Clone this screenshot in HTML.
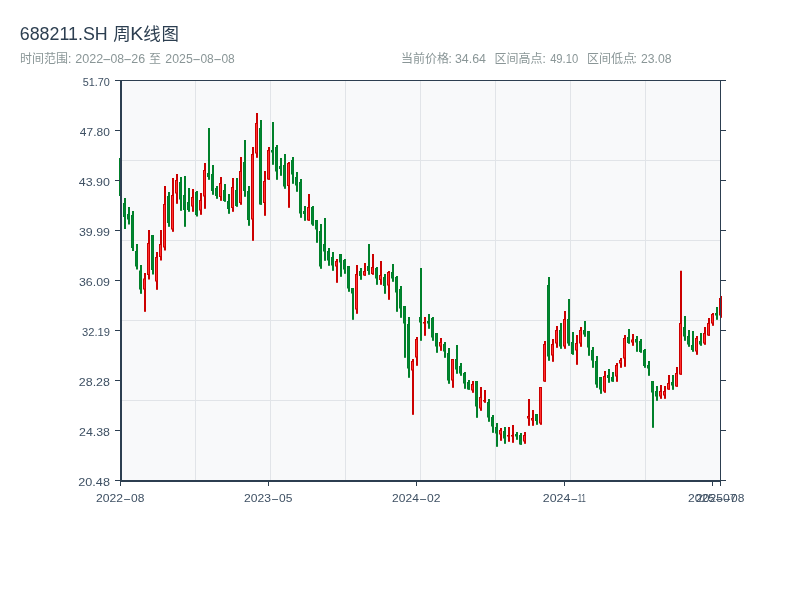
<!DOCTYPE html>
<html lang="zh"><head><meta charset="utf-8"><title>688211.SH 周K线图</title>
<style>
html,body{margin:0;padding:0;background:#fff}
body{width:800px;height:600px;overflow:hidden;font-family:"Liberation Sans",sans-serif}
svg{display:block;position:absolute;left:0;top:0;will-change:transform}
text{font-family:"Liberation Sans","Noto Sans CJK SC",sans-serif}
</style></head><body>
<svg width="800" height="600" viewBox="0 0 800 600" role="img" aria-label="688211.SH 周K线图 时间范围: 2022-08-26 至 2025-08-08 当前价格: 34.64 区间高点: 49.10 区间低点: 23.08">
<rect x="120" y="80" width="600" height="400" fill="#f8f9fa"/>
<rect x="195" y="81" width="1" height="399" fill="#e1e4e8"/>
<rect x="270" y="81" width="1" height="399" fill="#e1e4e8"/>
<rect x="345" y="81" width="1" height="399" fill="#e1e4e8"/>
<rect x="420" y="81" width="1" height="399" fill="#e1e4e8"/>
<rect x="495" y="81" width="1" height="399" fill="#e1e4e8"/>
<rect x="570" y="81" width="1" height="399" fill="#e1e4e8"/>
<rect x="645" y="81" width="1" height="399" fill="#e1e4e8"/>
<rect x="122" y="160" width="598" height="1" fill="#e1e4e8"/>
<rect x="122" y="240" width="598" height="1" fill="#e1e4e8"/>
<rect x="122" y="320" width="598" height="1" fill="#e1e4e8"/>
<rect x="122" y="400" width="598" height="1" fill="#e1e4e8"/>
<rect x="115" y="80" width="611" height="1" fill="#2c3e50"/>
<rect x="720" y="80" width="6" height="1" fill="#2c3e50"/>
<rect x="720" y="130" width="6" height="1" fill="#2c3e50"/>
<rect x="720" y="180" width="6" height="1" fill="#2c3e50"/>
<rect x="720" y="230" width="6" height="1" fill="#2c3e50"/>
<rect x="720" y="280" width="6" height="1" fill="#2c3e50"/>
<rect x="720" y="330" width="6" height="1" fill="#2c3e50"/>
<rect x="720" y="380" width="6" height="1" fill="#2c3e50"/>
<rect x="720" y="430" width="6" height="1" fill="#2c3e50"/>
<rect x="720" y="480" width="6" height="1" fill="#2c3e50"/>
<rect x="120" y="158" width="2" height="38" fill="#00802a"/>
<rect x="119" y="158" width="3" height="38" fill="#00802a"/>
<rect x="120" y="159" width="1" height="36" fill="#008632"/>
<rect x="124" y="198" width="2" height="31" fill="#00802a"/>
<rect x="123" y="203" width="3" height="14" fill="#00802a"/>
<rect x="124" y="204" width="1" height="12" fill="#008632"/>
<rect x="128" y="207" width="2" height="17.5" fill="#00802a"/>
<rect x="127" y="214" width="3" height="5.5" fill="#00802a"/>
<rect x="128" y="215" width="1" height="3.5" fill="#008632"/>
<rect x="132" y="211" width="2" height="40" fill="#00802a"/>
<rect x="131" y="215" width="3" height="33" fill="#00802a"/>
<rect x="132" y="216" width="1" height="31" fill="#008632"/>
<rect x="136" y="244" width="2" height="25.5" fill="#00802a"/>
<rect x="135" y="251" width="3" height="15.5" fill="#00802a"/>
<rect x="136" y="252" width="1" height="13.5" fill="#008632"/>
<rect x="140" y="265" width="2" height="28.8" fill="#00802a"/>
<rect x="139" y="270.5" width="3" height="19" fill="#00802a"/>
<rect x="140" y="271.5" width="1" height="17" fill="#008632"/>
<rect x="144" y="273" width="2" height="38.8" fill="#cc0000"/>
<rect x="143" y="278.5" width="3" height="11" fill="#cc0000"/>
<rect x="144" y="279.5" width="1" height="9" fill="#ff3030"/>
<rect x="148" y="230" width="2" height="49.5" fill="#cc0000"/>
<rect x="147" y="243" width="3" height="32" fill="#cc0000"/>
<rect x="148" y="244" width="1" height="30" fill="#ff3030"/>
<rect x="152" y="235" width="2" height="39.5" fill="#00802a"/>
<rect x="151" y="235" width="3" height="35" fill="#00802a"/>
<rect x="152" y="236" width="1" height="33" fill="#008632"/>
<rect x="156" y="252" width="2" height="37.8" fill="#cc0000"/>
<rect x="155" y="257" width="3" height="24.5" fill="#cc0000"/>
<rect x="156" y="258" width="1" height="22.5" fill="#ff3030"/>
<rect x="160" y="230" width="2" height="30.5" fill="#cc0000"/>
<rect x="159" y="244" width="3" height="13" fill="#cc0000"/>
<rect x="160" y="245" width="1" height="11" fill="#ff3030"/>
<rect x="164" y="186" width="2" height="64.5" fill="#cc0000"/>
<rect x="163" y="204" width="3" height="43.5" fill="#cc0000"/>
<rect x="164" y="205" width="1" height="41.5" fill="#ff3030"/>
<rect x="168" y="192" width="2" height="34.8" fill="#00802a"/>
<rect x="167" y="196" width="3" height="27" fill="#00802a"/>
<rect x="168" y="197" width="1" height="25" fill="#008632"/>
<rect x="172" y="178" width="2" height="53.8" fill="#cc0000"/>
<rect x="171" y="195" width="3" height="34.5" fill="#cc0000"/>
<rect x="172" y="196" width="1" height="32.5" fill="#ff3030"/>
<rect x="176" y="174" width="2" height="29.8" fill="#cc0000"/>
<rect x="175" y="180" width="3" height="13.5" fill="#cc0000"/>
<rect x="176" y="181" width="1" height="11.5" fill="#ff3030"/>
<rect x="180" y="177" width="2" height="33.8" fill="#00802a"/>
<rect x="179" y="182" width="3" height="17.5" fill="#00802a"/>
<rect x="180" y="183" width="1" height="15.5" fill="#008632"/>
<rect x="184" y="176" width="2" height="50.8" fill="#00802a"/>
<rect x="183" y="195" width="3" height="15" fill="#00802a"/>
<rect x="184" y="196" width="1" height="13" fill="#008632"/>
<rect x="188" y="188" width="2" height="23.8" fill="#00802a"/>
<rect x="187" y="202" width="3" height="8" fill="#00802a"/>
<rect x="188" y="203" width="1" height="6" fill="#008632"/>
<rect x="192" y="189" width="2" height="22.8" fill="#cc0000"/>
<rect x="191" y="197" width="3" height="9.5" fill="#cc0000"/>
<rect x="192" y="198" width="1" height="7.5" fill="#ff3030"/>
<rect x="196" y="191" width="2" height="25.5" fill="#00802a"/>
<rect x="195" y="192" width="3" height="23" fill="#00802a"/>
<rect x="196" y="193" width="1" height="21" fill="#008632"/>
<rect x="200" y="193" width="2" height="21.8" fill="#cc0000"/>
<rect x="199" y="200" width="3" height="10.5" fill="#cc0000"/>
<rect x="200" y="201" width="1" height="8.5" fill="#ff3030"/>
<rect x="204" y="163" width="2" height="45.8" fill="#cc0000"/>
<rect x="203" y="170" width="3" height="26.5" fill="#cc0000"/>
<rect x="204" y="171" width="1" height="24.5" fill="#ff3030"/>
<rect x="208" y="128" width="2" height="51.8" fill="#00802a"/>
<rect x="207" y="173" width="3" height="4" fill="#00802a"/>
<rect x="208" y="174" width="1" height="2" fill="#008632"/>
<rect x="212" y="165" width="2" height="29.8" fill="#00802a"/>
<rect x="211" y="174" width="3" height="17" fill="#00802a"/>
<rect x="212" y="175" width="1" height="15" fill="#008632"/>
<rect x="216" y="186" width="2" height="12.8" fill="#00802a"/>
<rect x="215" y="188" width="3" height="8" fill="#00802a"/>
<rect x="216" y="189" width="1" height="6" fill="#008632"/>
<rect x="220" y="177" width="2" height="23.8" fill="#cc0000"/>
<rect x="219" y="183" width="3" height="14" fill="#cc0000"/>
<rect x="220" y="184" width="1" height="12" fill="#ff3030"/>
<rect x="224" y="184" width="2" height="17.8" fill="#00802a"/>
<rect x="223" y="190" width="3" height="11" fill="#00802a"/>
<rect x="224" y="191" width="1" height="9" fill="#008632"/>
<rect x="228" y="194" width="2" height="19.8" fill="#00802a"/>
<rect x="227" y="201" width="3" height="8" fill="#00802a"/>
<rect x="228" y="202" width="1" height="6" fill="#008632"/>
<rect x="232" y="178" width="2" height="33.8" fill="#cc0000"/>
<rect x="231" y="187" width="3" height="21" fill="#cc0000"/>
<rect x="232" y="188" width="1" height="19" fill="#ff3030"/>
<rect x="236" y="178" width="2" height="28.8" fill="#00802a"/>
<rect x="235" y="190" width="3" height="16" fill="#00802a"/>
<rect x="236" y="191" width="1" height="14" fill="#008632"/>
<rect x="240" y="157" width="2" height="47.8" fill="#cc0000"/>
<rect x="239" y="171" width="3" height="32" fill="#cc0000"/>
<rect x="240" y="172" width="1" height="30" fill="#ff3030"/>
<rect x="244" y="140" width="2" height="56.8" fill="#00802a"/>
<rect x="243" y="162" width="3" height="29" fill="#00802a"/>
<rect x="244" y="163" width="1" height="27" fill="#008632"/>
<rect x="248" y="186" width="2" height="39.8" fill="#00802a"/>
<rect x="247" y="191" width="3" height="29" fill="#00802a"/>
<rect x="248" y="192" width="1" height="27" fill="#008632"/>
<rect x="252" y="147" width="2" height="93.8" fill="#cc0000"/>
<rect x="251" y="154" width="3" height="65.5" fill="#cc0000"/>
<rect x="252" y="155" width="1" height="63.5" fill="#ff3030"/>
<rect x="256" y="113" width="2" height="44.8" fill="#cc0000"/>
<rect x="255" y="123" width="3" height="30.5" fill="#cc0000"/>
<rect x="256" y="124" width="1" height="28.5" fill="#ff3030"/>
<rect x="260" y="120" width="2" height="84.8" fill="#00802a"/>
<rect x="259" y="128" width="3" height="76.5" fill="#00802a"/>
<rect x="260" y="129" width="1" height="74.5" fill="#008632"/>
<rect x="264" y="171" width="2" height="44.8" fill="#cc0000"/>
<rect x="263" y="181" width="3" height="22" fill="#cc0000"/>
<rect x="264" y="182" width="1" height="20" fill="#ff3030"/>
<rect x="268" y="147" width="2" height="32.8" fill="#cc0000"/>
<rect x="267" y="150" width="3" height="29.5" fill="#cc0000"/>
<rect x="268" y="151" width="1" height="27.5" fill="#ff3030"/>
<rect x="272" y="122" width="2" height="42.8" fill="#00802a"/>
<rect x="271" y="150" width="3" height="2.5" fill="#00802a"/>
<rect x="272" y="151" width="1" height="0.5" fill="#008632"/>
<rect x="276" y="145" width="2" height="34.8" fill="#00802a"/>
<rect x="275" y="147" width="3" height="24.5" fill="#00802a"/>
<rect x="276" y="148" width="1" height="22.5" fill="#008632"/>
<rect x="280" y="158" width="2" height="17.8" fill="#00802a"/>
<rect x="279" y="166" width="3" height="3" fill="#00802a"/>
<rect x="280" y="167" width="1" height="1" fill="#008632"/>
<rect x="284" y="154" width="2" height="34.8" fill="#00802a"/>
<rect x="283" y="165" width="3" height="21.5" fill="#00802a"/>
<rect x="284" y="166" width="1" height="19.5" fill="#008632"/>
<rect x="288" y="162" width="2" height="45.8" fill="#cc0000"/>
<rect x="287" y="163" width="3" height="23" fill="#cc0000"/>
<rect x="288" y="164" width="1" height="21" fill="#ff3030"/>
<rect x="292" y="157" width="2" height="26.8" fill="#00802a"/>
<rect x="291" y="160" width="3" height="14.5" fill="#00802a"/>
<rect x="292" y="161" width="1" height="12.5" fill="#008632"/>
<rect x="296" y="172" width="2" height="19.8" fill="#00802a"/>
<rect x="295" y="177" width="3" height="8.5" fill="#00802a"/>
<rect x="296" y="178" width="1" height="6.5" fill="#008632"/>
<rect x="300" y="179" width="2" height="38.8" fill="#00802a"/>
<rect x="299" y="182" width="3" height="31.5" fill="#00802a"/>
<rect x="300" y="183" width="1" height="29.5" fill="#008632"/>
<rect x="304" y="206" width="2" height="14.8" fill="#00802a"/>
<rect x="303" y="211" width="3" height="3" fill="#00802a"/>
<rect x="304" y="212" width="1" height="1" fill="#008632"/>
<rect x="308" y="194" width="2" height="26.8" fill="#cc0000"/>
<rect x="307" y="207" width="3" height="13.5" fill="#cc0000"/>
<rect x="308" y="208" width="1" height="11.5" fill="#ff3030"/>
<rect x="312" y="206" width="2" height="19.8" fill="#00802a"/>
<rect x="311" y="207" width="3" height="17.5" fill="#00802a"/>
<rect x="312" y="208" width="1" height="15.5" fill="#008632"/>
<rect x="316" y="220" width="2" height="22.8" fill="#00802a"/>
<rect x="315" y="220" width="3" height="9.5" fill="#00802a"/>
<rect x="316" y="221" width="1" height="7.5" fill="#008632"/>
<rect x="320" y="224" width="2" height="44.8" fill="#00802a"/>
<rect x="319" y="231" width="3" height="35.5" fill="#00802a"/>
<rect x="320" y="232" width="1" height="33.5" fill="#008632"/>
<rect x="324" y="218" width="2" height="42.8" fill="#00802a"/>
<rect x="323" y="244" width="3" height="7.5" fill="#00802a"/>
<rect x="324" y="245" width="1" height="5.5" fill="#008632"/>
<rect x="328" y="248" width="2" height="17.8" fill="#00802a"/>
<rect x="327" y="251" width="3" height="9.5" fill="#00802a"/>
<rect x="328" y="252" width="1" height="7.5" fill="#008632"/>
<rect x="332" y="252" width="2" height="18.8" fill="#00802a"/>
<rect x="331" y="257" width="3" height="8.5" fill="#00802a"/>
<rect x="332" y="258" width="1" height="6.5" fill="#008632"/>
<rect x="336" y="259" width="2" height="23.8" fill="#cc0000"/>
<rect x="335" y="261" width="3" height="5.5" fill="#cc0000"/>
<rect x="336" y="262" width="1" height="3.5" fill="#ff3030"/>
<rect x="340" y="254" width="2" height="22.8" fill="#00802a"/>
<rect x="339" y="254" width="3" height="8.5" fill="#00802a"/>
<rect x="340" y="255" width="1" height="6.5" fill="#008632"/>
<rect x="344" y="259" width="2" height="14.8" fill="#00802a"/>
<rect x="343" y="260" width="3" height="9.5" fill="#00802a"/>
<rect x="344" y="261" width="1" height="7.5" fill="#008632"/>
<rect x="348" y="266" width="2" height="25.8" fill="#00802a"/>
<rect x="347" y="266" width="3" height="22.5" fill="#00802a"/>
<rect x="348" y="267" width="1" height="20.5" fill="#008632"/>
<rect x="352" y="288" width="2" height="31.8" fill="#00802a"/>
<rect x="351" y="288" width="3" height="5.5" fill="#00802a"/>
<rect x="352" y="289" width="1" height="3.5" fill="#008632"/>
<rect x="356" y="265" width="2" height="48.8" fill="#cc0000"/>
<rect x="355" y="274" width="3" height="35.5" fill="#cc0000"/>
<rect x="356" y="275" width="1" height="33.5" fill="#ff3030"/>
<rect x="360" y="268" width="2" height="11.8" fill="#00802a"/>
<rect x="359" y="271" width="3" height="5" fill="#00802a"/>
<rect x="360" y="272" width="1" height="3" fill="#008632"/>
<rect x="364" y="263" width="2" height="12.8" fill="#cc0000"/>
<rect x="363" y="271" width="3" height="4.5" fill="#cc0000"/>
<rect x="364" y="272" width="1" height="2.5" fill="#ff3030"/>
<rect x="368" y="244" width="2" height="30.8" fill="#00802a"/>
<rect x="367" y="266" width="3" height="5" fill="#00802a"/>
<rect x="368" y="267" width="1" height="3" fill="#008632"/>
<rect x="372" y="254" width="2" height="20.8" fill="#cc0000"/>
<rect x="371" y="267" width="3" height="7" fill="#cc0000"/>
<rect x="372" y="268" width="1" height="5" fill="#ff3030"/>
<rect x="376" y="267" width="2" height="17.8" fill="#00802a"/>
<rect x="375" y="268" width="3" height="10.5" fill="#00802a"/>
<rect x="376" y="269" width="1" height="8.5" fill="#008632"/>
<rect x="380" y="261" width="2" height="23.8" fill="#cc0000"/>
<rect x="379" y="275" width="3" height="5" fill="#cc0000"/>
<rect x="380" y="276" width="1" height="3" fill="#ff3030"/>
<rect x="384" y="274" width="2" height="19.8" fill="#00802a"/>
<rect x="383" y="277" width="3" height="9" fill="#00802a"/>
<rect x="384" y="278" width="1" height="7" fill="#008632"/>
<rect x="388" y="271" width="2" height="28.8" fill="#cc0000"/>
<rect x="387" y="272" width="3" height="13.5" fill="#cc0000"/>
<rect x="388" y="273" width="1" height="11.5" fill="#ff3030"/>
<rect x="392" y="264" width="2" height="17.8" fill="#00802a"/>
<rect x="391" y="272" width="3" height="6.5" fill="#00802a"/>
<rect x="392" y="273" width="1" height="4.5" fill="#008632"/>
<rect x="396" y="276" width="2" height="35.8" fill="#00802a"/>
<rect x="395" y="277" width="3" height="15.5" fill="#00802a"/>
<rect x="396" y="278" width="1" height="13.5" fill="#008632"/>
<rect x="400" y="286" width="2" height="31.8" fill="#00802a"/>
<rect x="399" y="289" width="3" height="19.5" fill="#00802a"/>
<rect x="400" y="290" width="1" height="17.5" fill="#008632"/>
<rect x="404" y="306" width="2" height="51.8" fill="#00802a"/>
<rect x="403" y="306" width="3" height="17.5" fill="#00802a"/>
<rect x="404" y="307" width="1" height="15.5" fill="#008632"/>
<rect x="408" y="317" width="2" height="60.8" fill="#00802a"/>
<rect x="407" y="324" width="3" height="44.5" fill="#00802a"/>
<rect x="408" y="325" width="1" height="42.5" fill="#008632"/>
<rect x="412" y="359" width="2" height="55.8" fill="#cc0000"/>
<rect x="411" y="361" width="3" height="9.5" fill="#cc0000"/>
<rect x="412" y="362" width="1" height="7.5" fill="#ff3030"/>
<rect x="416" y="337" width="2" height="28.8" fill="#cc0000"/>
<rect x="415" y="339" width="3" height="18.5" fill="#cc0000"/>
<rect x="416" y="340" width="1" height="16.5" fill="#ff3030"/>
<rect x="420" y="268" width="2" height="72.8" fill="#00802a"/>
<rect x="419" y="317" width="3" height="5.5" fill="#00802a"/>
<rect x="420" y="318" width="1" height="3.5" fill="#008632"/>
<rect x="424" y="317" width="2" height="18.8" fill="#cc0000"/>
<rect x="423" y="322" width="3" height="1.5" fill="#cc0000"/>
<rect x="428" y="314" width="2" height="14.8" fill="#00802a"/>
<rect x="427" y="321" width="3" height="2.5" fill="#00802a"/>
<rect x="428" y="322" width="1" height="0.5" fill="#008632"/>
<rect x="432" y="317" width="2" height="23.8" fill="#00802a"/>
<rect x="431" y="318" width="3" height="19.5" fill="#00802a"/>
<rect x="432" y="319" width="1" height="17.5" fill="#008632"/>
<rect x="436" y="333" width="2" height="19.8" fill="#00802a"/>
<rect x="435" y="333" width="3" height="13.5" fill="#00802a"/>
<rect x="436" y="334" width="1" height="11.5" fill="#008632"/>
<rect x="440" y="338" width="2" height="12.8" fill="#cc0000"/>
<rect x="439" y="342" width="3" height="4.5" fill="#cc0000"/>
<rect x="440" y="343" width="1" height="2.5" fill="#ff3030"/>
<rect x="444" y="342" width="2" height="15.8" fill="#00802a"/>
<rect x="443" y="344" width="3" height="7.5" fill="#00802a"/>
<rect x="444" y="345" width="1" height="5.5" fill="#008632"/>
<rect x="448" y="348" width="2" height="35.8" fill="#00802a"/>
<rect x="447" y="353" width="3" height="27.5" fill="#00802a"/>
<rect x="448" y="354" width="1" height="25.5" fill="#008632"/>
<rect x="452" y="359" width="2" height="28.8" fill="#cc0000"/>
<rect x="451" y="359" width="3" height="21.5" fill="#cc0000"/>
<rect x="452" y="360" width="1" height="19.5" fill="#ff3030"/>
<rect x="456" y="345" width="2" height="28.8" fill="#00802a"/>
<rect x="455" y="359" width="3" height="10.5" fill="#00802a"/>
<rect x="456" y="360" width="1" height="8.5" fill="#008632"/>
<rect x="460" y="363" width="2" height="12.8" fill="#00802a"/>
<rect x="459" y="366" width="3" height="7.5" fill="#00802a"/>
<rect x="460" y="367" width="1" height="5.5" fill="#008632"/>
<rect x="464" y="372" width="2" height="16.8" fill="#00802a"/>
<rect x="463" y="373" width="3" height="10.5" fill="#00802a"/>
<rect x="464" y="374" width="1" height="8.5" fill="#008632"/>
<rect x="468" y="380" width="2" height="9.8" fill="#00802a"/>
<rect x="467" y="382" width="3" height="7.5" fill="#00802a"/>
<rect x="468" y="383" width="1" height="5.5" fill="#008632"/>
<rect x="472" y="381" width="2" height="11.8" fill="#cc0000"/>
<rect x="471" y="384" width="3" height="6.5" fill="#cc0000"/>
<rect x="472" y="385" width="1" height="4.5" fill="#ff3030"/>
<rect x="476" y="381" width="2" height="36.8" fill="#00802a"/>
<rect x="475" y="381" width="3" height="25.5" fill="#00802a"/>
<rect x="476" y="382" width="1" height="23.5" fill="#008632"/>
<rect x="480" y="387" width="2" height="23.8" fill="#cc0000"/>
<rect x="479" y="397" width="3" height="11.5" fill="#cc0000"/>
<rect x="480" y="398" width="1" height="9.5" fill="#ff3030"/>
<rect x="484" y="390" width="2" height="12.8" fill="#cc0000"/>
<rect x="483" y="400" width="3" height="1.5" fill="#cc0000"/>
<rect x="488" y="399" width="2" height="22.8" fill="#00802a"/>
<rect x="487" y="402" width="3" height="15.5" fill="#00802a"/>
<rect x="488" y="403" width="1" height="13.5" fill="#008632"/>
<rect x="492" y="415" width="2" height="17.8" fill="#00802a"/>
<rect x="491" y="417" width="3" height="9.5" fill="#00802a"/>
<rect x="492" y="418" width="1" height="7.5" fill="#008632"/>
<rect x="496" y="423" width="2" height="23.8" fill="#00802a"/>
<rect x="495" y="427" width="3" height="6.5" fill="#00802a"/>
<rect x="496" y="428" width="1" height="4.5" fill="#008632"/>
<rect x="500" y="428" width="2" height="12.8" fill="#cc0000"/>
<rect x="499" y="430" width="3" height="4.5" fill="#cc0000"/>
<rect x="500" y="431" width="1" height="2.5" fill="#ff3030"/>
<rect x="504" y="427" width="2" height="16.8" fill="#00802a"/>
<rect x="503" y="431" width="3" height="7.5" fill="#00802a"/>
<rect x="504" y="432" width="1" height="5.5" fill="#008632"/>
<rect x="508" y="427" width="2" height="14.8" fill="#cc0000"/>
<rect x="507" y="435" width="3" height="1.5" fill="#cc0000"/>
<rect x="512" y="425" width="2" height="17.8" fill="#cc0000"/>
<rect x="511" y="435" width="3" height="1.5" fill="#cc0000"/>
<rect x="516" y="432" width="2" height="7.8" fill="#00802a"/>
<rect x="515" y="434" width="3" height="2.5" fill="#00802a"/>
<rect x="516" y="435" width="1" height="0.5" fill="#008632"/>
<rect x="520" y="433" width="2" height="11.8" fill="#00802a"/>
<rect x="519" y="435" width="3" height="9.5" fill="#00802a"/>
<rect x="520" y="436" width="1" height="7.5" fill="#008632"/>
<rect x="524" y="432" width="2" height="11.8" fill="#cc0000"/>
<rect x="523" y="435" width="3" height="6.5" fill="#cc0000"/>
<rect x="524" y="436" width="1" height="4.5" fill="#ff3030"/>
<rect x="528" y="399" width="2" height="26.8" fill="#cc0000"/>
<rect x="527" y="416" width="3" height="2.5" fill="#cc0000"/>
<rect x="528" y="417" width="1" height="0.5" fill="#ff3030"/>
<rect x="532" y="410" width="2" height="15.8" fill="#cc0000"/>
<rect x="531" y="418" width="3" height="2.5" fill="#cc0000"/>
<rect x="532" y="419" width="1" height="0.5" fill="#ff3030"/>
<rect x="536" y="414" width="2" height="10.8" fill="#00802a"/>
<rect x="535" y="414" width="3" height="7" fill="#00802a"/>
<rect x="536" y="415" width="1" height="5" fill="#008632"/>
<rect x="540" y="387" width="2" height="37.8" fill="#cc0000"/>
<rect x="539" y="387" width="3" height="36.5" fill="#cc0000"/>
<rect x="540" y="388" width="1" height="34.5" fill="#ff3030"/>
<rect x="544" y="341" width="2" height="40.8" fill="#cc0000"/>
<rect x="543" y="344" width="3" height="37.5" fill="#cc0000"/>
<rect x="544" y="345" width="1" height="35.5" fill="#ff3030"/>
<rect x="548" y="277" width="2" height="83.8" fill="#00802a"/>
<rect x="547" y="285" width="3" height="71.5" fill="#00802a"/>
<rect x="548" y="286" width="1" height="69.5" fill="#008632"/>
<rect x="552" y="339" width="2" height="22.8" fill="#cc0000"/>
<rect x="551" y="344" width="3" height="11.5" fill="#cc0000"/>
<rect x="552" y="345" width="1" height="9.5" fill="#ff3030"/>
<rect x="556" y="326" width="2" height="21.8" fill="#cc0000"/>
<rect x="555" y="330" width="3" height="13.5" fill="#cc0000"/>
<rect x="556" y="331" width="1" height="11.5" fill="#ff3030"/>
<rect x="560" y="323" width="2" height="25.8" fill="#00802a"/>
<rect x="559" y="330" width="3" height="16.5" fill="#00802a"/>
<rect x="560" y="331" width="1" height="14.5" fill="#008632"/>
<rect x="564" y="311" width="2" height="37.8" fill="#cc0000"/>
<rect x="563" y="319" width="3" height="27.5" fill="#cc0000"/>
<rect x="564" y="320" width="1" height="25.5" fill="#ff3030"/>
<rect x="568" y="299" width="2" height="46.8" fill="#00802a"/>
<rect x="567" y="319" width="3" height="24.5" fill="#00802a"/>
<rect x="568" y="320" width="1" height="22.5" fill="#008632"/>
<rect x="572" y="332" width="2" height="22.8" fill="#00802a"/>
<rect x="571" y="342" width="3" height="12" fill="#00802a"/>
<rect x="572" y="343" width="1" height="10" fill="#008632"/>
<rect x="576" y="335" width="2" height="29.8" fill="#cc0000"/>
<rect x="575" y="343" width="3" height="7.5" fill="#cc0000"/>
<rect x="576" y="344" width="1" height="5.5" fill="#ff3030"/>
<rect x="580" y="327" width="2" height="19.8" fill="#cc0000"/>
<rect x="579" y="330" width="3" height="13.5" fill="#cc0000"/>
<rect x="580" y="331" width="1" height="11.5" fill="#ff3030"/>
<rect x="584" y="321" width="2" height="15.8" fill="#00802a"/>
<rect x="583" y="330" width="3" height="4.5" fill="#00802a"/>
<rect x="584" y="331" width="1" height="2.5" fill="#008632"/>
<rect x="588" y="331" width="2" height="24.8" fill="#00802a"/>
<rect x="587" y="331" width="3" height="16.5" fill="#00802a"/>
<rect x="588" y="332" width="1" height="14.5" fill="#008632"/>
<rect x="592" y="347" width="2" height="20.8" fill="#00802a"/>
<rect x="591" y="350" width="3" height="10.5" fill="#00802a"/>
<rect x="592" y="351" width="1" height="8.5" fill="#008632"/>
<rect x="596" y="356" width="2" height="31.8" fill="#00802a"/>
<rect x="595" y="361" width="3" height="23.5" fill="#00802a"/>
<rect x="596" y="362" width="1" height="21.5" fill="#008632"/>
<rect x="600" y="377" width="2" height="16.8" fill="#00802a"/>
<rect x="599" y="377" width="3" height="12.5" fill="#00802a"/>
<rect x="600" y="378" width="1" height="10.5" fill="#008632"/>
<rect x="604" y="371" width="2" height="21.8" fill="#cc0000"/>
<rect x="603" y="376" width="3" height="15.5" fill="#cc0000"/>
<rect x="604" y="377" width="1" height="13.5" fill="#ff3030"/>
<rect x="608" y="369" width="2" height="13.8" fill="#00802a"/>
<rect x="607" y="375" width="3" height="3" fill="#00802a"/>
<rect x="608" y="376" width="1" height="1" fill="#008632"/>
<rect x="612" y="372" width="2" height="9.8" fill="#00802a"/>
<rect x="611" y="377" width="3" height="4.5" fill="#00802a"/>
<rect x="612" y="378" width="1" height="2.5" fill="#008632"/>
<rect x="616" y="363" width="2" height="18.8" fill="#cc0000"/>
<rect x="615" y="365" width="3" height="11.5" fill="#cc0000"/>
<rect x="616" y="366" width="1" height="9.5" fill="#ff3030"/>
<rect x="620" y="358" width="2" height="9.8" fill="#cc0000"/>
<rect x="619" y="360" width="3" height="3.5" fill="#cc0000"/>
<rect x="620" y="361" width="1" height="1.5" fill="#ff3030"/>
<rect x="624" y="335" width="2" height="31.8" fill="#cc0000"/>
<rect x="623" y="338" width="3" height="20.5" fill="#cc0000"/>
<rect x="624" y="339" width="1" height="18.5" fill="#ff3030"/>
<rect x="628" y="329" width="2" height="14.8" fill="#00802a"/>
<rect x="627" y="337" width="3" height="6" fill="#00802a"/>
<rect x="628" y="338" width="1" height="4" fill="#008632"/>
<rect x="632" y="334" width="2" height="11.8" fill="#cc0000"/>
<rect x="631" y="339.5" width="3" height="3" fill="#cc0000"/>
<rect x="632" y="340.5" width="1" height="1" fill="#ff3030"/>
<rect x="636" y="336" width="2" height="15.8" fill="#00802a"/>
<rect x="635" y="339" width="3" height="3.5" fill="#00802a"/>
<rect x="636" y="340" width="1" height="1.5" fill="#008632"/>
<rect x="640" y="339" width="2" height="13.8" fill="#00802a"/>
<rect x="639" y="341" width="3" height="11" fill="#00802a"/>
<rect x="640" y="342" width="1" height="9" fill="#008632"/>
<rect x="644" y="349" width="2" height="18.8" fill="#00802a"/>
<rect x="643" y="350" width="3" height="16" fill="#00802a"/>
<rect x="644" y="351" width="1" height="14" fill="#008632"/>
<rect x="648" y="361" width="2" height="14.8" fill="#00802a"/>
<rect x="647" y="365" width="3" height="3.5" fill="#00802a"/>
<rect x="648" y="366" width="1" height="1.5" fill="#008632"/>
<rect x="652" y="381" width="2" height="46.8" fill="#00802a"/>
<rect x="651" y="381" width="3" height="11.5" fill="#00802a"/>
<rect x="652" y="382" width="1" height="9.5" fill="#008632"/>
<rect x="656" y="386" width="2" height="14.8" fill="#00802a"/>
<rect x="655" y="391" width="3" height="5.5" fill="#00802a"/>
<rect x="656" y="392" width="1" height="3.5" fill="#008632"/>
<rect x="660" y="385" width="2" height="13.8" fill="#cc0000"/>
<rect x="659" y="391" width="3" height="5.5" fill="#cc0000"/>
<rect x="660" y="392" width="1" height="3.5" fill="#ff3030"/>
<rect x="664" y="386" width="2" height="12.8" fill="#cc0000"/>
<rect x="663" y="391" width="3" height="4.5" fill="#cc0000"/>
<rect x="664" y="392" width="1" height="2.5" fill="#ff3030"/>
<rect x="668" y="375" width="2" height="14.8" fill="#cc0000"/>
<rect x="667" y="383" width="3" height="6.5" fill="#cc0000"/>
<rect x="668" y="384" width="1" height="4.5" fill="#ff3030"/>
<rect x="672" y="375" width="2" height="14.8" fill="#00802a"/>
<rect x="671" y="382" width="3" height="3.5" fill="#00802a"/>
<rect x="672" y="383" width="1" height="1.5" fill="#008632"/>
<rect x="676" y="367" width="2" height="19.8" fill="#cc0000"/>
<rect x="675" y="373" width="3" height="13.5" fill="#cc0000"/>
<rect x="676" y="374" width="1" height="11.5" fill="#ff3030"/>
<rect x="680" y="270.75" width="2" height="104.05" fill="#cc0000"/>
<rect x="679" y="323" width="3" height="51.5" fill="#cc0000"/>
<rect x="680" y="324" width="1" height="49.5" fill="#ff3030"/>
<rect x="684" y="316" width="2" height="24.8" fill="#00802a"/>
<rect x="683" y="327" width="3" height="9.5" fill="#00802a"/>
<rect x="684" y="328" width="1" height="7.5" fill="#008632"/>
<rect x="688" y="330" width="2" height="16.8" fill="#00802a"/>
<rect x="687" y="336" width="3" height="8.5" fill="#00802a"/>
<rect x="688" y="337" width="1" height="6.5" fill="#008632"/>
<rect x="692" y="331" width="2" height="20.8" fill="#00802a"/>
<rect x="691" y="345" width="3" height="5" fill="#00802a"/>
<rect x="692" y="346" width="1" height="3" fill="#008632"/>
<rect x="696" y="336" width="2" height="18.8" fill="#cc0000"/>
<rect x="695" y="338" width="3" height="13.5" fill="#cc0000"/>
<rect x="696" y="339" width="1" height="11.5" fill="#ff3030"/>
<rect x="700" y="333" width="2" height="12.8" fill="#00802a"/>
<rect x="699" y="341" width="3" height="3.5" fill="#00802a"/>
<rect x="700" y="342" width="1" height="1.5" fill="#008632"/>
<rect x="704" y="327" width="2" height="17.8" fill="#cc0000"/>
<rect x="703" y="333" width="3" height="10.5" fill="#cc0000"/>
<rect x="704" y="334" width="1" height="8.5" fill="#ff3030"/>
<rect x="708" y="318" width="2" height="17.8" fill="#cc0000"/>
<rect x="707" y="323" width="3" height="12.5" fill="#cc0000"/>
<rect x="708" y="324" width="1" height="10.5" fill="#ff3030"/>
<rect x="712" y="313" width="2" height="12.8" fill="#cc0000"/>
<rect x="711" y="314" width="3" height="9.5" fill="#cc0000"/>
<rect x="712" y="315" width="1" height="7.5" fill="#ff3030"/>
<rect x="716" y="307" width="2" height="12.8" fill="#00802a"/>
<rect x="715" y="313" width="3" height="2.5" fill="#00802a"/>
<rect x="716" y="314" width="1" height="0.5" fill="#008632"/>
<rect x="720" y="296" width="2" height="21.8" fill="#cc0000"/>
<rect x="719" y="298" width="3" height="17.5" fill="#cc0000"/>
<rect x="720" y="299" width="1" height="15.5" fill="#ff3030"/>
<rect x="720" y="80" width="1" height="401" fill="#2c3e50"/>
<rect x="120" y="80" width="2" height="402" fill="#2c3e50"/>
<rect x="120" y="480" width="601" height="2" fill="#2c3e50"/>
<rect x="115" y="80" width="5" height="1" fill="#2c3e50"/>
<rect x="115" y="130" width="5" height="1" fill="#2c3e50"/>
<rect x="115" y="180" width="5" height="1" fill="#2c3e50"/>
<rect x="115" y="230" width="5" height="1" fill="#2c3e50"/>
<rect x="115" y="280" width="5" height="1" fill="#2c3e50"/>
<rect x="115" y="330" width="5" height="1" fill="#2c3e50"/>
<rect x="115" y="380" width="5" height="1" fill="#2c3e50"/>
<rect x="115" y="430" width="5" height="1" fill="#2c3e50"/>
<rect x="115" y="480" width="5" height="1" fill="#2c3e50"/>
<rect x="120" y="482" width="1" height="4" fill="#2c3e50"/>
<rect x="268" y="482" width="1" height="4" fill="#2c3e50"/>
<rect x="416" y="482" width="1" height="4" fill="#2c3e50"/>
<rect x="564" y="482" width="1" height="4" fill="#2c3e50"/>
<rect x="712" y="482" width="1" height="4" fill="#2c3e50"/>
<rect x="720" y="482" width="1" height="4" fill="#2c3e50"/>
<text y="86" font-size="11" fill="#3e5063"><tspan x="82.67" textLength="27.16" lengthAdjust="spacingAndGlyphs">51.70</tspan></text>
<text y="136" font-size="11" fill="#3e5063"><tspan x="79.87" textLength="29.99" lengthAdjust="spacingAndGlyphs">47.80</tspan></text>
<text y="186" font-size="11" fill="#3e5063"><tspan x="78.71" textLength="31.17" lengthAdjust="spacingAndGlyphs">43.90</tspan></text>
<text y="236" font-size="11" fill="#3e5063"><tspan x="78.93" textLength="31.06" lengthAdjust="spacingAndGlyphs">39.99</tspan></text>
<text y="286" font-size="11" fill="#3e5063"><tspan x="78.93" textLength="31.06" lengthAdjust="spacingAndGlyphs">36.09</tspan></text>
<text y="336" font-size="11" fill="#3e5063"><tspan x="81.97" textLength="27.95" lengthAdjust="spacingAndGlyphs">32.19</tspan></text>
<text y="386" font-size="11" fill="#3e5063"><tspan x="78.82" textLength="31.12" lengthAdjust="spacingAndGlyphs">28.28</tspan></text>
<text y="436" font-size="11" fill="#3e5063"><tspan x="79.03" textLength="30.91" lengthAdjust="spacingAndGlyphs">24.38</tspan></text>
<text y="486" font-size="11" fill="#3e5063"><tspan x="78.31" textLength="31.64" lengthAdjust="spacingAndGlyphs">20.48</tspan></text>
<text y="502" font-size="11" fill="#3e5063"><tspan x="96.09" textLength="27.02" lengthAdjust="spacingAndGlyphs">2022</tspan><tspan x="123.01" textLength="8.18" lengthAdjust="spacingAndGlyphs">-</tspan><tspan x="131.13" textLength="13.39" lengthAdjust="spacingAndGlyphs">08</tspan></text>
<text y="502" font-size="11" fill="#3e5063"><tspan x="244.09" textLength="26.94" lengthAdjust="spacingAndGlyphs">2023</tspan><tspan x="271.01" textLength="8.18" lengthAdjust="spacingAndGlyphs">-</tspan><tspan x="279.13" textLength="13.37" lengthAdjust="spacingAndGlyphs">05</tspan></text>
<text y="502" font-size="11" fill="#3e5063"><tspan x="392.1" textLength="26.76" lengthAdjust="spacingAndGlyphs">2024</tspan><tspan x="419.01" textLength="8.18" lengthAdjust="spacingAndGlyphs">-</tspan><tspan x="427.13" textLength="13.48" lengthAdjust="spacingAndGlyphs">02</tspan></text>
<text y="502" font-size="11" fill="#3e5063"><tspan x="542.78" textLength="27.59" lengthAdjust="spacingAndGlyphs">2024</tspan><tspan x="570.58" textLength="7.64" lengthAdjust="spacingAndGlyphs">-</tspan><tspan x="577.84" textLength="8.11" lengthAdjust="spacingAndGlyphs">11</tspan></text>
<text y="502" font-size="11" fill="#3e5063"><tspan x="688.09" textLength="26.92" lengthAdjust="spacingAndGlyphs">2025</tspan><tspan x="715.01" textLength="8.18" lengthAdjust="spacingAndGlyphs">-</tspan><tspan x="723.13" textLength="13.48" lengthAdjust="spacingAndGlyphs">07</tspan></text>
<text y="502" font-size="11" fill="#3e5063"><tspan x="696.09" textLength="26.92" lengthAdjust="spacingAndGlyphs">2025</tspan><tspan x="723.01" textLength="8.18" lengthAdjust="spacingAndGlyphs">-</tspan><tspan x="731.13" textLength="13.39" lengthAdjust="spacingAndGlyphs">08</tspan></text>
<text y="40" font-size="18" fill="#2c3e50"><tspan x="19.71" textLength="87.98" lengthAdjust="spacingAndGlyphs">688211.SH</tspan></text>
<text x="113.3" y="40.1" font-size="17.5" fill="#2c3e50">周</text>
<text y="40" font-size="18" fill="#2c3e50"><tspan x="130.3" textLength="13.02" lengthAdjust="spacingAndGlyphs">K</tspan></text>
<text x="143.3" y="40.1" font-size="17.5" fill="#2c3e50">线</text>
<text x="161.4" y="40.1" font-size="17.5" fill="#2c3e50">图</text>
<text x="20" y="62.6" font-size="12" fill="#8a9697">时间范围</text>
<text y="62.6" font-size="12" fill="#8a9697"><tspan x="67.85" textLength="3.79" lengthAdjust="spacingAndGlyphs">:</tspan></text>
<text y="62.6" font-size="12" fill="#8a9697"><tspan x="75.22" textLength="28.02" lengthAdjust="spacingAndGlyphs">2022</tspan><tspan x="102.18" textLength="9.14" lengthAdjust="spacingAndGlyphs">-</tspan><tspan x="110.42" textLength="13.61" lengthAdjust="spacingAndGlyphs">08</tspan><tspan x="123.24" textLength="8.66" lengthAdjust="spacingAndGlyphs">-</tspan><tspan x="131.27" textLength="13.88" lengthAdjust="spacingAndGlyphs">26</tspan></text>
<text x="149" y="62.6" font-size="12" fill="#8a9697">至</text>
<text y="62.6" font-size="12" fill="#8a9697"><tspan x="165.38" textLength="27.39" lengthAdjust="spacingAndGlyphs">2025</tspan><tspan x="192.24" textLength="8.66" lengthAdjust="spacingAndGlyphs">-</tspan><tspan x="200.43" textLength="13.34" lengthAdjust="spacingAndGlyphs">08</tspan><tspan x="213.24" textLength="8.66" lengthAdjust="spacingAndGlyphs">-</tspan><tspan x="221.43" textLength="13.34" lengthAdjust="spacingAndGlyphs">08</tspan></text>
<text x="401" y="62.6" font-size="12" fill="#8a9697">当前价格</text>
<text y="62.6" font-size="12" fill="#8a9697"><tspan x="448.15" textLength="3.79" lengthAdjust="spacingAndGlyphs">:</tspan></text>
<text y="62.6" font-size="12" fill="#8a9697"><tspan x="454.93" textLength="31.04" lengthAdjust="spacingAndGlyphs">34.64</tspan></text>
<text x="494.5" y="62.6" font-size="12" fill="#8a9697">区间高点</text>
<text y="62.6" font-size="12" fill="#8a9697"><tspan x="542.15" textLength="3.79" lengthAdjust="spacingAndGlyphs">:</tspan></text>
<text y="62.6" font-size="12" fill="#8a9697"><tspan x="550.14" textLength="28.1" lengthAdjust="spacingAndGlyphs">49.10</tspan></text>
<text x="587" y="62.6" font-size="12" fill="#8a9697">区间低点</text>
<text y="62.6" font-size="12" fill="#8a9697"><tspan x="633.25" textLength="3.79" lengthAdjust="spacingAndGlyphs">:</tspan></text>
<text y="62.6" font-size="12" fill="#8a9697"><tspan x="640.99" textLength="30.54" lengthAdjust="spacingAndGlyphs">23.08</tspan></text>
</svg>
</body></html>
